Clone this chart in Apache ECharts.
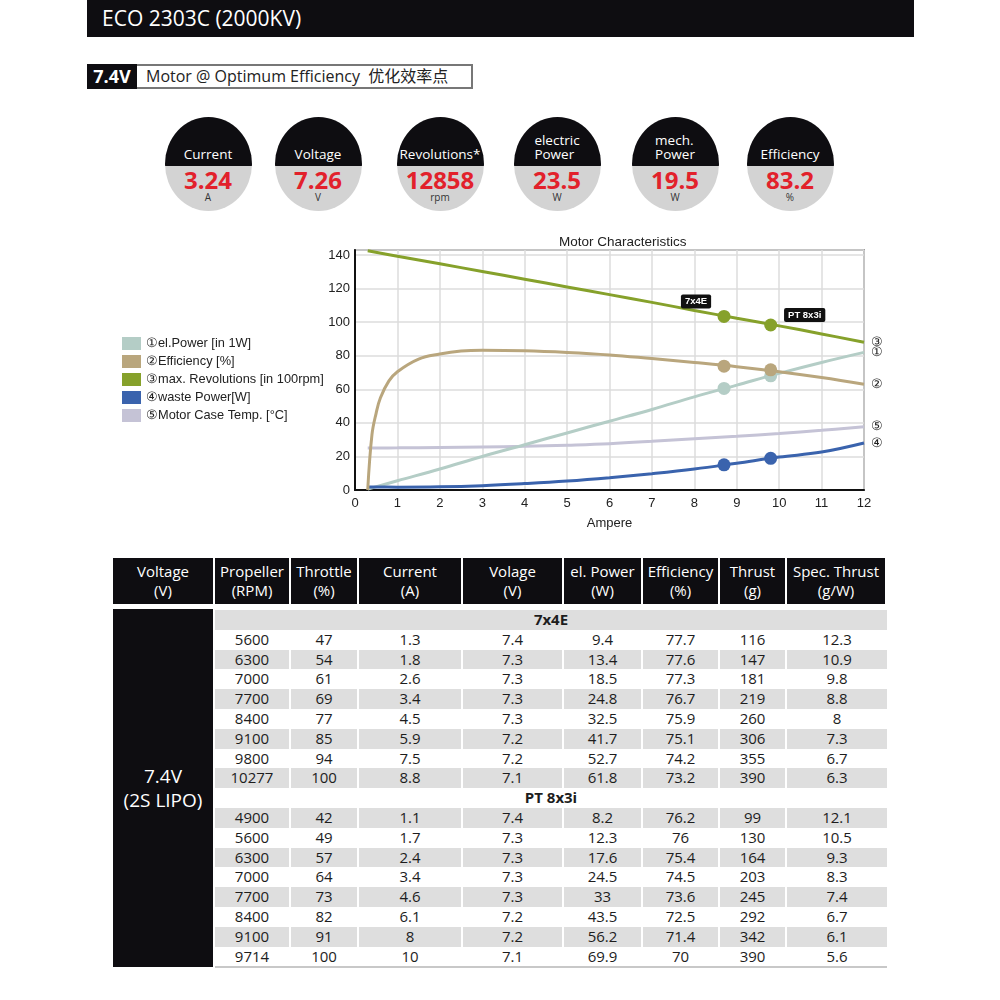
<!DOCTYPE html>
<html><head><meta charset="utf-8">
<script src="https://cdn.jsdelivr.net/npm/echarts@6/dist/echarts.min.js"></script>
<style>
html,body{margin:0;padding:0;}
body{width:1000px;height:1000px;background:#fff;position:relative;overflow:hidden;font-family:"Open Sans","Noto Sans","Noto Sans CJK SC",sans-serif;}
.abs{position:absolute;}
#hdr{left:87px;top:0;width:827px;height:37px;background:#0e0d11;color:#fff;font-size:21px;line-height:37px;padding-left:15px;box-sizing:border-box;}
#vbox{left:87px;top:64px;width:50px;height:25px;background:#0e0d11;color:#fff;font-weight:bold;font-size:18px;line-height:25px;text-align:center;}
#mbox{left:137px;top:64px;width:336px;height:25px;border:2px solid #777;border-left:none;box-sizing:border-box;font-size:16px;line-height:21px;padding-left:9px;color:#222;white-space:pre;font-family:"Open Sans","Noto Sans CJK SC",sans-serif;}
.circ{position:absolute;top:117px;width:87px;height:94px;border-radius:50%;overflow:hidden;background:#d3d3d3;}
.circ .top{position:absolute;left:0;top:0;width:100%;height:49px;background:#0e0d11;color:#fff;display:flex;flex-direction:column;justify-content:flex-end;align-items:center;padding-bottom:5px;box-sizing:border-box;font-size:13.5px;line-height:14px;font-family:"Open Sans",sans-serif;}
.circ .val{position:absolute;left:0;width:100%;top:50px;text-align:center;font-weight:bold;font-size:24px;line-height:26px;color:#e2212b;}
.circ .unit{position:absolute;left:0;width:100%;top:75px;text-align:center;font-size:10px;line-height:10px;color:#333;}
#chart{left:0;top:225px;width:1000px;height:310px;}
.tc{position:absolute;box-sizing:border-box;text-align:center;font-family:"Open Sans",sans-serif;}
.th{background:#0e0d11;color:#fff;font-size:15px;line-height:19px;padding-top:4px;}
.td{font-size:15px;color:#1d1d1d;line-height:19px;}
</style>
</head><body>
<div id="hdr" class="abs">ECO 2303C (2000KV)</div>
<div id="vbox" class="abs">7.4V</div>
<div id="mbox" class="abs">Motor @ Optimum Efficiency  优化效率点</div>
<div id="circles"></div>
<div id="chart" class="abs"></div>
<div id="table"></div>
<script>
// ---------- summary values ----------
const statLabels = ['Current', 'Voltage', 'Revolutions*', 'electric<br>Power', 'mech.<br>Power', 'Efficiency'];
const statValues = ['3.24', '7.26', '12858', '23.5', '19.5', '83.2'];
const statUnits = ['A', 'V', 'rpm', 'W', 'W', '%'];

// ---------- chart data ----------
const amps = [0.3, 1, 2, 3, 4, 5, 6, 7, 8, 9, 10, 11, 12];
const elPower = [0.5, 5.5, 12.5, 20, 27, 34, 41, 48, 55.5, 62.5, 69.5, 76, 82];
const revolutions = [142.5, 139.3, 134.8, 130.2, 125.6, 121, 116.4, 111.8, 107, 102.3, 97.8, 93, 88];
const wastePower = [1.8, 1.7, 1.9, 2.6, 3.8, 5.3, 7.3, 9.7, 12.5, 16, 19.6, 22.6, 28];
const caseTemp = [25, 25.1, 25.3, 25.6, 26, 26.7, 27.6, 29, 30.6, 32, 33.7, 35.6, 37.7];
const ampsEff = [0.3, 0.4, 0.5, 0.6, 0.8, 1, 1.5, 2, 2.5, 3, 4, 5, 6, 7, 8, 9, 10, 11, 12];
const efficiency = [0, 33, 46, 55, 65, 70.5, 78, 81, 82.8, 83.3, 83, 82, 80.5, 78.3, 76, 73.5, 70.5, 67, 63];
// operating points of the two propellers
const opNames = ['7x4E', 'PT 8x3i'];
const opAmps = [8.7, 9.8];
const opPower = [60.5, 68];
const opEff = [73.8, 71.6];
const opRev = [103.4, 98.3];
const opWaste = [15, 18.9];
const seriesNames = ['①el.Power [in 1W]', '②Efficiency [%]', '③max. Revolutions [in 100rpm]', '④waste Power[W]', '⑤Motor Case Temp. [°C]'];
const endMarks = ['①', '②', '③', '④', '⑤'];
const xTicks = [0, 12, 1];   // min, max, interval
const yTicks = [0, 143, 20];

// ---------- table data ----------
const tableHeaders = ['Voltage<br>(V)', 'Propeller<br>(RPM)', 'Throttle<br>(%)', 'Current<br>(A)', 'Volage<br>(V)', 'el. Power<br>(W)', 'Efficiency<br>(%)', 'Thrust<br>(g)', 'Spec. Thrust<br>(g/W)'];
const groupVoltage = ['7.4V', '(2S LIPO)'];
const prop1 = '7x4E';
const rows1 = [
  [5600, 47, 1.3, 7.4, 9.4, 77.7, 116, 12.3],
  [6300, 54, 1.8, 7.3, 13.4, 77.6, 147, 10.9],
  [7000, 61, 2.6, 7.3, 18.5, 77.3, 181, 9.8],
  [7700, 69, 3.4, 7.3, 24.8, 76.7, 219, 8.8],
  [8400, 77, 4.5, 7.3, 32.5, 75.9, 260, 8],
  [9100, 85, 5.9, 7.2, 41.7, 75.1, 306, 7.3],
  [9800, 94, 7.5, 7.2, 52.7, 74.2, 355, 6.7],
  [10277, 100, 8.8, 7.1, 61.8, 73.2, 390, 6.3]
];
const prop2 = 'PT 8x3i';
const rows2 = [
  [4900, 42, 1.1, 7.4, 8.2, 76.2, 99, 12.1],
  [5600, 49, 1.7, 7.3, 12.3, 76, 130, 10.5],
  [6300, 57, 2.4, 7.3, 17.6, 75.4, 164, 9.3],
  [7000, 64, 3.4, 7.3, 24.5, 74.5, 203, 8.3],
  [7700, 73, 4.6, 7.3, 33, 73.6, 245, 7.4],
  [8400, 82, 6.1, 7.2, 43.5, 72.5, 292, 6.7],
  [9100, 91, 8, 7.2, 56.2, 71.4, 342, 6.1],
  [9714, 100, 10, 7.1, 69.9, 70, 390, 5.6]
];

// ---------- build circles ----------
const circCenters = [208, 318, 440, 557, 675, 790];
let ch = '';
statLabels.forEach((l, i) => {
  ch += `<div class="circ" style="left:${circCenters[i] - 43.5}px"><div class="top"><div>${l}</div></div>` +
        `<div class="val">${statValues[i]}</div><div class="unit">${statUnits[i]}</div></div>`;
});
document.getElementById('circles').innerHTML = ch;

// ---------- build table ----------
const colEdges = [113, 215, 291, 359, 463, 564, 643, 720, 787, 887];
let th = '';
tableHeaders.forEach((h, i) => {
  th += `<div class="tc th" style="left:${colEdges[i]}px;top:558px;width:${colEdges[i + 1] - colEdges[i] - 2}px;height:46px">${h}</div>`;
});
th += `<div class="tc" style="left:113px;top:609px;width:100px;height:358px;background:#0e0d11;color:#fff;font-size:19px;line-height:24px;padding-top:155px">${groupVoltage[0]}<br>${groupVoltage[1]}</div>`;
const allRows = [[prop1]].concat(rows1, [[prop2]], rows2);
const rowH = 19.8, rowTop = 610;
allRows.forEach((r, i) => {
  const top = rowTop + i * rowH;
  const bg = i % 2 === 0 ? '#dedede' : '#ffffff';
  if (r.length === 1) {
    th += `<div class="tc td" style="left:215px;top:${top}px;width:672px;height:${rowH}px;background:${bg};font-weight:bold">${r[0]}</div>`;
  } else {
    r.forEach((v, j) => {
      th += `<div class="tc td" style="left:${colEdges[j + 1]}px;top:${top}px;width:${colEdges[j + 2] - colEdges[j + 1] - (j < 7 ? 2 : 0)}px;height:${rowH}px;background:${bg}">${v}</div>`;
    });
  }
});
th += `<div class="abs" style="left:215px;top:966px;width:672px;height:2px;background:#c8c8c8"></div>`;
document.getElementById('table').innerHTML = th;

// ---------- chart ----------
const pairs = (xs, ys) => xs.map((x, i) => [x, ys[i]]);
const colors = ['#b4cdc6', '#b9a67d', '#86a12b', '#3a63ad', '#c5c3d6'];
const lineVals = [[amps, elPower], [ampsEff, efficiency], [amps, revolutions], [amps, wastePower], [amps, caseTemp]];
const series = lineVals.map((lv, i) => ({
  name: seriesNames[i], type: 'line', smooth: 0.4, showSymbol: false,
  data: pairs(lv[0], lv[1]), color: colors[i],
  lineStyle: { width: 3, color: colors[i] },
  endLabel: { show: true, formatter: endMarks[i], color: '#222', fontSize: 13, distance: 7 },
  z: [2, 3, 2, 2, 1][i], animation: false
}));
const opSets = [[opPower, colors[0]], [opEff, colors[1]], [opRev, colors[2]], [opWaste, colors[3]]];
opSets.forEach((s, k) => {
  series.push({
    type: 'scatter', symbolSize: 13, z: 5, animation: false,
    itemStyle: { color: s[1], opacity: 1 },
    data: opAmps.map((x, i) => {
      const d = { value: [x, s[0][i]], name: opNames[i] };
      if (k === 2) {
        d.label = {
          show: true, formatter: opNames[i], position: 'inside',
          offset: i === 0 ? [-28, -15] : [34, -10],
          backgroundColor: '#111', color: '#fff', fontSize: 9.5, fontWeight: 'bold',
          padding: [2, 4], borderRadius: 2, fontFamily: 'Liberation Sans, Arial, sans-serif'
        };
      }
      return d;
    })
  });
});

const chart = echarts.init(document.getElementById('chart'), null, { renderer: 'canvas' });
chart.setOption({
  animation: false,
  textStyle: { fontFamily: 'Liberation Sans, Arial, sans-serif' },
  title: { text: 'Motor Characteristics', left: 554, top: 5, textStyle: { fontSize: 13.5, fontWeight: 'normal', color: '#222' } },
  legend: {
    data: seriesNames, orient: 'vertical', left: 117, top: 107, icon: 'rect',
    itemWidth: 19, itemHeight: 13, itemGap: 5,
    textStyle: { fontSize: 12.8, color: '#222' }
  },
  grid: { left: 355, right: 136, top: 25, bottom: 44, show: true, borderColor: '#555', borderWidth: 1.5 },
  xAxis: {
    type: 'value', min: xTicks[0], max: xTicks[1], interval: xTicks[2],
    name: 'Ampere', nameLocation: 'middle', nameGap: 27, nameTextStyle: { fontSize: 13, color: '#222' },
    axisLine: { show: true, lineStyle: { color: '#111', width: 2 } },
    axisTick: { show: false },
    axisLabel: { fontSize: 13, color: '#222', margin: 7 },
    splitLine: { show: true, lineStyle: { color: '#dcdcdc', width: 1.5 } }
  },
  yAxis: {
    type: 'value', min: yTicks[0], max: yTicks[1], interval: yTicks[2],
    axisLine: { show: true, lineStyle: { color: '#111', width: 2 } },
    axisTick: { show: false },
    axisLabel: { fontSize: 13, color: '#222', margin: 5, formatter: v => (v % 20 === 0 ? v : '') },
    splitLine: { show: true, lineStyle: { color: '#dcdcdc', width: 1.5 } }
  },
  series: series
});
</script>
</body></html>
